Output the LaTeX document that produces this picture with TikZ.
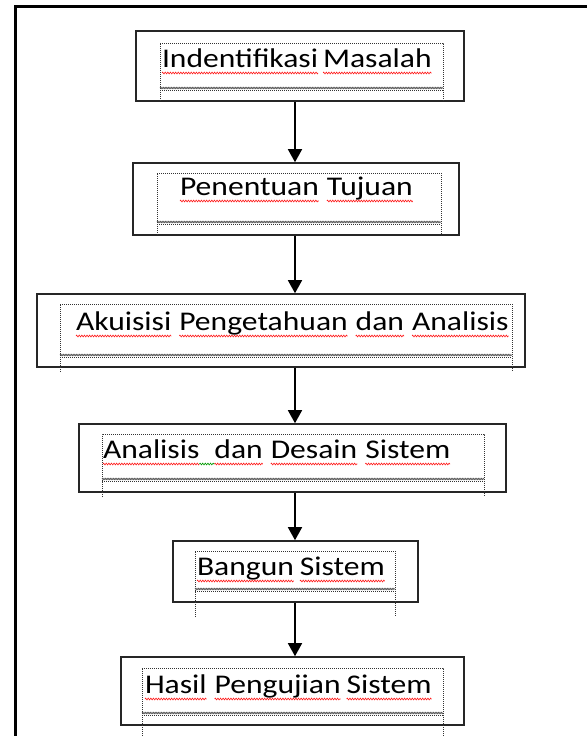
\documentclass[tikz,border=0pt]{standalone}
\usepackage{fontspec}
\newfontfamily\calfont[FakeStretch=1.17]{Carlito}
\usetikzlibrary{arrows.meta,decorations.pathmorphing}
\tikzset{
  boxnode/.style={draw=black!85, line width=1.6pt, inner sep=0pt},
  dotline/.style={draw=black!80, line width=0.9pt, dash pattern=on 1pt off 1pt},
  wavyline/.style={draw=black!70, line width=0.6pt, decorate, decoration={zigzag, amplitude=0.7pt, segment length=1.6pt}},
  redsq/.style={draw=red!90, line width=0.6pt, decorate, decoration={zigzag, amplitude=0.9pt, segment length=2.6pt}},
  greensq/.style={draw=green!60!black, line width=0.6pt, decorate, decoration={zigzag, amplitude=0.9pt, segment length=2.6pt}},
  word/.style={inner sep=0pt, outer sep=0pt, anchor=base west, font=\calfont\fontsize{27}{30}\selectfont, text=black},
  flow/.style={draw=black, line width=1.6pt, -{Triangle[width=14pt,length=13pt]}},
  frameline/.style={draw=black, line width=3pt}
}
\newcommand\mysq[1]{\draw[redsq] ([yshift=-6pt]#1.base west) -- ([yshift=-6pt]#1.base east);}
\newcommand\inframe[5]{% left right top wavy bottom
  \draw[dotline] (#1,#5) -- (#1,#3) -- (#2,#3) -- (#2,#5);
  \draw[wavyline] (#1,#4) -- (#2,#4);
  \draw[dotline] (#1,#4+2) -- (#2,#4+2);
}
\begin{document}
\begin{tikzpicture}[x=1pt,y=-1pt]
\useasboundingbox (0,0) rectangle (587,736);
\draw[frameline] (15,736) -- (15,6) -- (587,6);

% boxes
\node[boxnode, minimum width=328pt, minimum height=70pt] (b1) at (300,66) {};
\node[boxnode, minimum width=326pt, minimum height=72pt] (b2) at (296,199) {};
\node[boxnode, minimum width=488pt, minimum height=73pt] (b3) at (281,330.5) {};
\node[boxnode, minimum width=427pt, minimum height=68pt] (b4) at (292.5,458) {};
\node[boxnode, minimum width=245pt, minimum height=61pt] (b5) at (295.5,571.5) {};
\node[boxnode, minimum width=343pt, minimum height=68pt] (b6) at (292.5,691) {};

% inner dotted frames
\inframe{160}{443}{43}{88}{101}
\inframe{157}{441}{173}{222}{235}
\inframe{60}{512}{304}{355}{372}
\inframe{102}{484}{434}{479}{497}
\inframe{195}{395}{551}{589}{617}
\inframe{142}{443}{668}{713}{736}

% texts
\node[word] (w11) at (162,67) {Indentifikasi};
\node[word] (w12) at ([xshift=5pt]w11.base east) {Masalah};
\node[word] (w21) at (180,195) {Penentuan};
\node[word] (w22) at ([xshift=8pt]w21.base east) {Tujuan};
\node[word] (w31) at (76,330) {Akuisisi};
\node[word] (w32) at ([xshift=8pt]w31.base east) {Pengetahuan};
\node[word] (w33) at ([xshift=8pt]w32.base east) {dan};
\node[word] (w34) at ([xshift=8pt]w33.base east) {Analisis};
\node[word] (w41) at (103,458) {Analisis};
\node[word] (w42) at ([xshift=15pt]w41.base east) {dan};
\node[word] (w43) at ([xshift=8pt]w42.base east) {Desain};
\node[word] (w44) at ([xshift=8pt]w43.base east) {Sistem};
\node[word] (w51) at (197,575) {Bangun};
\node[word] (w52) at ([xshift=6pt]w51.base east) {Sistem};
\node[word] (w61) at (145,693) {Hasil};
\node[word] (w62) at ([xshift=8pt]w61.base east) {Pengujian};
\node[word] (w63) at ([xshift=6pt]w62.base east) {Sistem};

\mysq{w11}\mysq{w12}\mysq{w21}\mysq{w22}
\mysq{w31}\mysq{w32}\mysq{w33}\mysq{w34}
\mysq{w41}\mysq{w42}\mysq{w43}\mysq{w44}
\mysq{w51}\mysq{w52}\mysq{w61}\mysq{w62}\mysq{w63}
\draw[greensq] ([yshift=-6pt]w41.base east) -- ([yshift=-6pt]w42.base west);

% arrows
\coordinate (ax) at (295,0);
\draw[flow] (b1.south -| ax) -- (b2.north -| ax);
\draw[flow] (b2.south -| ax) -- (b3.north -| ax);
\draw[flow] (b3.south -| ax) -- (b4.north -| ax);
\draw[flow] (b4.south -| ax) -- (b5.north -| ax);
\draw[flow] (b5.south -| ax) -- (b6.north -| ax);
\end{tikzpicture}
\end{document}
